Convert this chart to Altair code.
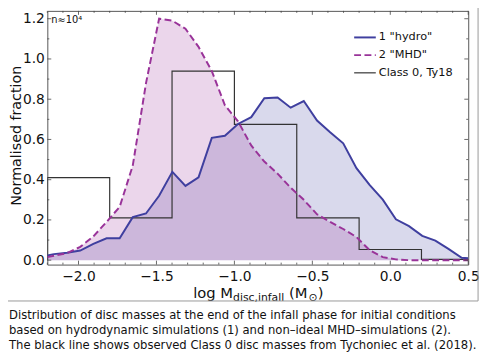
import altair as alt
import pandas as pd

# ---------------- data ----------------
x_centers = [-2.2, -2.158, -2.073, -1.989, -1.905, -1.820, -1.736, -1.652, -1.567, -1.483,
             -1.398, -1.314, -1.230, -1.145, -1.061, -0.977, -0.892, -0.808, -0.723, -0.639,
             -0.555, -0.470, -0.386, -0.302, -0.217, -0.133, -0.048, 0.036, 0.120, 0.205,
             0.289, 0.373, 0.458, 0.5]
hydro = [0.023, 0.030, 0.037, 0.048, 0.081, 0.109, 0.109, 0.214, 0.232, 0.320,
         0.439, 0.369, 0.412, 0.608, 0.618, 0.677, 0.711, 0.805, 0.809, 0.758,
         0.791, 0.694, 0.636, 0.581, 0.457, 0.374, 0.301, 0.203, 0.169, 0.121,
         0.097, 0.056, 0.012, 0.010]
mhd = [0.015, 0.022, 0.035, 0.066, 0.118, 0.190, 0.265, 0.470, 0.880, 1.200,
       1.190, 1.150, 1.060, 0.940, 0.770, 0.690, 0.570, 0.490, 0.430, 0.360,
       0.300, 0.228, 0.190, 0.155, 0.115, 0.050, 0.015, 0.004, 0.0, 0.0,
       0.0, 0.0, 0.0, 0.0]
ty18_edges = [-2.2, -2.2, -1.8, -1.4, -1.0, -0.6, -0.2, 0.2, 0.6]
ty18_vals = [0.0, 0.41, 0.21, 0.94, 0.675, 0.21, 0.053, 0.004, 0.004]

x_ticks = [-2.0, -1.5, -1.0, -0.5, 0.0, 0.5]
x_minor = [-2.2, -2.1, -1.9, -1.8, -1.7, -1.6, -1.4, -1.3, -1.2, -1.1, -0.9, -0.8,
           -0.7, -0.6, -0.4, -0.3, -0.2, -0.1, 0.1, 0.2, 0.3, 0.4]
y_ticks = [0.0, 0.2, 0.4, 0.6, 0.8, 1.0, 1.2]
y_minor = [0.1, 0.3, 0.5, 0.7, 0.9, 1.1]

legend_labels = ['1 "hydro"', '2 "MHD"', 'Class 0, Ty18']
y_title = "Normalised fraction"
n_label = "n≈10⁴"
caption = ("Distribution of disc masses at the end of the infall phase for initial conditions\n"
           "based on hydrodynamic simulations (1) and non\u2013ideal MHD\u2013simulations (2).\n"
           "The black line shows observed Class 0 disc masses from Tychoniec et al. (2018).")

C_HYDRO = "#3f3f9f"
C_MHD = "#993399"
C_OBS = "#333333"
FONT = "DejaVu Sans"

W, H = 428, 258

xs = alt.Scale(domain=[-2.2, 0.5], nice=False, zero=False)
ys = alt.Scale(domain=[-0.022, 1.239], nice=False, zero=False)

df = pd.DataFrame({"x": x_centers, "hydro": hydro, "mhd": mhd})
dobs = pd.DataFrame({"x": ty18_edges, "y": ty18_vals, "i": list(range(len(ty18_vals)))})

X = alt.X("x:Q", scale=xs,
          axis=alt.Axis(values=x_ticks, format=".1f", labelFontSize=14, labelFont=FONT,
                        labelColor="#111", ticks=False, domain=False, grid=False,
                        labelFlush=False, labelOverlap=False,
                        labelPadding=5, title=None))
YA = alt.Axis(values=y_ticks, format=".1f", labelFontSize=14, labelFont=FONT,
              labelColor="#111", ticks=False, domain=False, grid=False,
              labelFlush=False, labelOverlap=False,
              labelPadding=3, title=None)

base = alt.Chart(df)
area_h = base.mark_area(color=C_HYDRO, opacity=0.2, clip=True).encode(
    x=X, y=alt.Y("hydro:Q", scale=ys, axis=YA), y2=alt.datum(0))
area_m = base.mark_area(color=C_MHD, opacity=0.2, clip=True).encode(
    x="x:Q", y="mhd:Q", y2=alt.datum(0))
obs = alt.Chart(dobs).mark_line(color=C_OBS, strokeWidth=1.2, interpolate="step-after",
                                clip=True).encode(x="x:Q", y="y:Q", order="i:Q")
line_h = base.mark_line(color=C_HYDRO, strokeWidth=2, clip=True).encode(x="x:Q", y="hydro:Q")
line_m = base.mark_line(color=C_MHD, strokeWidth=2, strokeDash=[7, 3.5], clip=True).encode(
    x="x:Q", y="mhd:Q")

# tick marks (inward, all four sides)
dxt = pd.DataFrame({"v": x_ticks})
dxm = pd.DataFrame({"v": x_minor})
dyt = pd.DataFrame({"v": y_ticks})
dym = pd.DataFrame({"v": y_minor})
tc = "#444444"
ticks = []
for d, L in ((dxt, 4), (dxm, 2)):
    ticks.append(alt.Chart(d).mark_rule(color=tc, strokeWidth=0.8).encode(
        x="v:Q", y=alt.value(H), y2=alt.value(H - L)))
    ticks.append(alt.Chart(d).mark_rule(color=tc, strokeWidth=0.8).encode(
        x="v:Q", y=alt.value(0), y2=alt.value(L)))
for d, L in ((dyt, 4), (dym, 2)):
    ticks.append(alt.Chart(d).mark_rule(color=tc, strokeWidth=0.8).encode(
        y="v:Q", x=alt.value(0), x2=alt.value(L)))
    ticks.append(alt.Chart(d).mark_rule(color=tc, strokeWidth=0.8).encode(
        y="v:Q", x=alt.value(W), x2=alt.value(W - L)))


def txt(s, x, y, size, align="left", baseline="alphabetic", angle=0, color="#111", **kw):
    return alt.Chart(pd.DataFrame({"t": [s]})).mark_text(
        align=align, baseline=baseline, fontSize=size, font=FONT, angle=angle,
        color=color, **kw).encode(x=alt.value(x), y=alt.value(y), text="t:N")


# legend
leg = []
leg_y = [27, 45, 63]
leg_style = [(C_HYDRO, 2, None), (C_MHD, 2, [7, 3.5]), (C_OBS, 1.2, None)]
for lab, yy, (c, sw, dash) in zip(legend_labels, leg_y, leg_style):
    kw = dict(color=c, strokeWidth=sw)
    if dash:
        kw["strokeDash"] = dash
    leg.append(alt.Chart(pd.DataFrame({"t": [lab]})).mark_rule(**kw).encode(
        x=alt.value(312), x2=alt.value(334), y=alt.value(yy)))
    leg.append(txt(lab, 337, yy, 11.5, baseline="middle"))

# x-axis title with subscripts
xt = [
    txt("log M", 148.3, 291.5, 15),
    txt("disc,infall", 188.9, 295, 11),
    txt("(M", 245.8, 291.5, 15),
    txt("\u2299", 265.6, 295, 11),
    txt(")", 275.0, 291.5, 15),
]

ytitle = txt(y_title, -26.5, 127, 14.5, align="center", baseline="alphabetic", angle=270)
nlab = txt(n_label, 4, 12, 10)
cap = txt(caption, -39, 313, 11.8, lineBreak="\n", lineHeight=15.5)

# outer figure frame (right and bottom parts)
frame = [
    alt.Chart(pd.DataFrame({"t": [0]})).mark_rule(color="#999999", strokeWidth=1).encode(
        x=alt.value(438), y=alt.value(-10), y2=alt.value(295)),
    alt.Chart(pd.DataFrame({"t": [0]})).mark_rule(color="#999999", strokeWidth=1).encode(
        x=alt.value(-50), x2=alt.value(438), y=alt.value(295)),
]

chart = alt.layer(area_h, area_m, obs, line_h, line_m, *ticks, *leg, *xt, ytitle, nlab,
                  cap, *frame).properties(
    width=W, height=H,
    padding={"left": 40, "top": 0, "right": 14, "bottom": 89},
    autosize=alt.AutoSizeParams(type="none"),
).configure_view(stroke="#555555", strokeWidth=1)

chart.save("out.html", embed_options={"renderer": "svg", "actions": False})
